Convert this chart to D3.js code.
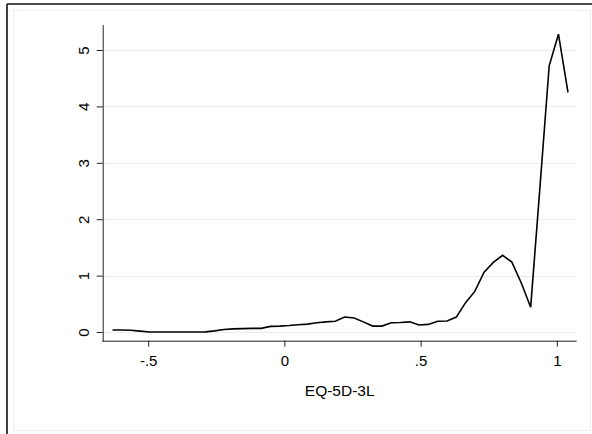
<!DOCTYPE html>
<html><head><meta charset="utf-8">
<script src="https://cdn.jsdelivr.net/npm/d3@7"></script>
<style>body{margin:0;background:#fff}svg{display:block}text{font-family:"Liberation Sans",Arial,sans-serif;fill:#000}</style>
</head><body><svg id="c" width="592" height="434"></svg>
<script>
const xValues = [-0.631,-0.597,-0.563,-0.529,-0.495,-0.460,-0.426,-0.392,-0.358,-0.324,-0.290,-0.256,-0.222,-0.188,-0.153,-0.119,-0.085,-0.051,-0.017,0.017,0.051,0.085,0.119,0.153,0.187,0.221,0.256,0.290,0.324,0.358,0.392,0.426,0.460,0.494,0.528,0.563,0.597,0.631,0.665,0.699,0.733,0.767,0.801,0.835,0.870,0.904,0.938,0.972,1.006,1.041];
const density = [0.035,0.035,0.03,0.015,0.0,0.0,0.0,0.0,0.0,0.0,0.002,0.02,0.045,0.055,0.06,0.065,0.065,0.1,0.105,0.115,0.13,0.14,0.165,0.18,0.19,0.265,0.25,0.18,0.105,0.105,0.165,0.17,0.18,0.125,0.135,0.19,0.195,0.265,0.52,0.72,1.06,1.235,1.36,1.24,0.865,0.44,2.56,4.72,5.28,4.25];
const xTicks = [-0.5,0,0.5,1];
const xTickLabels = ["-.5","0",".5","1"];
const yTicks = [0,1,2,3,4,5];
const xTitle = "EQ-5D-3L";

const svg = d3.select("#c");
// outer frame
svg.append("rect").attr("x",13.5).attr("y",10.5).attr("width",577).attr("height",420).attr("fill","none").attr("stroke","#e8eff0").attr("stroke-width",1);
svg.append("line").attr("x1",7).attr("x2",592).attr("y1",4).attr("y2",4).attr("stroke","#111").attr("stroke-width",1.6);
svg.append("line").attr("x1",7).attr("x2",7).attr("y1",4).attr("y2",434).attr("stroke","#111").attr("stroke-width",1.6);

const x = d3.scaleLinear().domain([-0.667,1.073]).range([102.7,576.7]);
const y = d3.scaleLinear().domain([-0.154,5.443]).range([340.7,25]);

// gridlines
svg.append("g").selectAll("line").data(yTicks).join("line")
  .attr("x1",102.7).attr("x2",576.7).attr("y1",d=>Math.round(y(d))+0.5).attr("y2",d=>Math.round(y(d))+0.5)
  .attr("stroke","#e6eef0").attr("stroke-width",1.2);

// y axis
const ya = svg.append("g").attr("transform","translate(102.7,0)")
  .call(d3.axisLeft(y).tickValues(yTicks).tickSize(6).tickPadding(0).tickFormat(d3.format("d")));
ya.select(".domain").attr("stroke","#222").attr("d","M0.5,25V341.2");
ya.selectAll(".tick line").attr("stroke","#222");
ya.selectAll(".tick text").attr("font-size","15px").attr("text-anchor","middle").attr("dy",null)
  .attr("transform","translate(-13.5,0) rotate(-90)").attr("y",0).attr("x",0).attr("dy","0");

// x axis
const xa = svg.append("g").attr("transform","translate(0,340.7)")
  .call(d3.axisBottom(x).tickValues(xTicks).tickSize(6).tickPadding(0).tickFormat((d,i)=>xTickLabels[i]));
xa.select(".domain").attr("stroke","#222").attr("d","M102.2,0.5H576.7");
xa.selectAll(".tick line").attr("stroke","#222");
xa.selectAll(".tick text").attr("font-size","15px").attr("y",25).attr("dy","0");

svg.append("text").attr("x",(102.7+576.7)/2).attr("y",395.7).attr("text-anchor","middle").attr("font-size","15.5px").text(xTitle);

// density line
const pts = xValues.map((v,i)=>[v,density[i]]);
svg.append("path").datum(pts).attr("fill","none").attr("stroke","#000").attr("stroke-width",1.6).attr("stroke-linejoin","miter")
  .attr("d",d3.line().x(d=>x(d[0])).y(d=>y(d[1])));
</script></body></html>
